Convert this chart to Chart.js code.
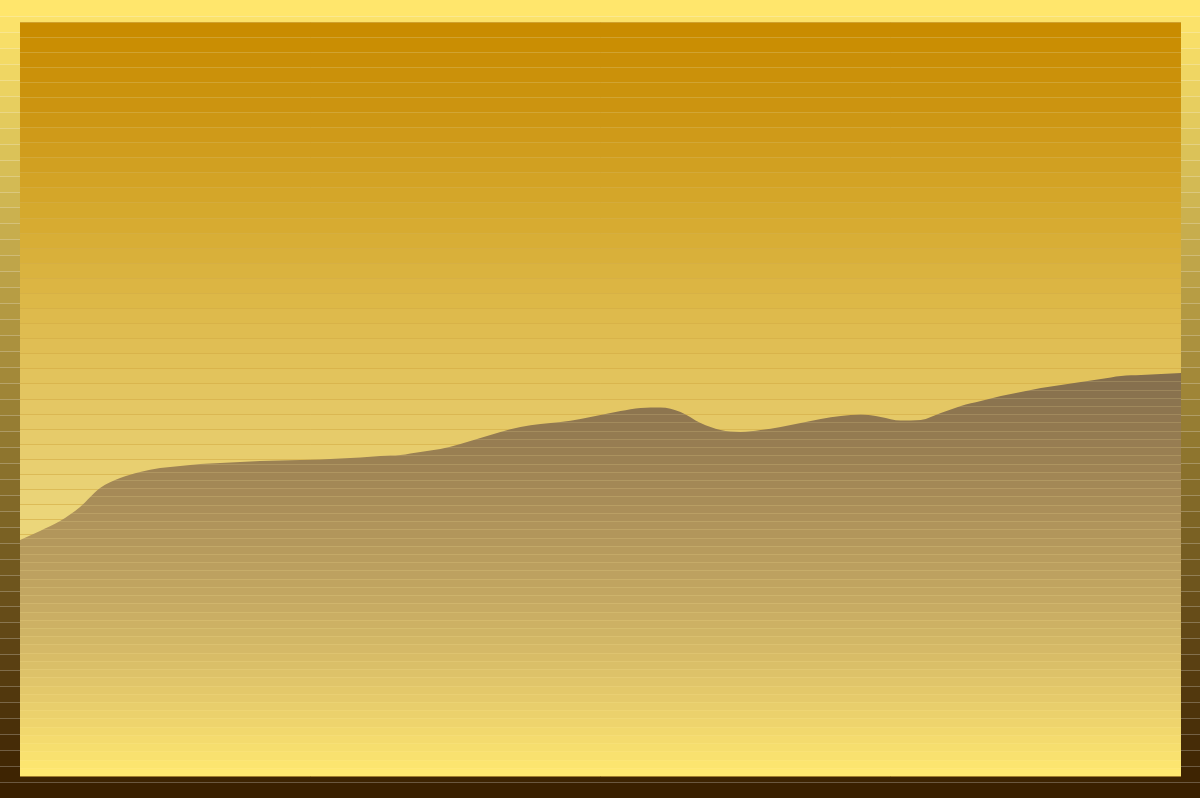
<!DOCTYPE html>
<html lang="en">
	<head>
		<meta charset="utf-8" />
		<title>Banded Area</title>
		<style>
			html,
			body {
				margin: 0;
				padding: 0;
				background: #3a2000;
			}
			#wrap {
				position: relative;
				width: 1200px;
				height: 798px;
			}
		</style>
	</head>
	<body>
		<div id="wrap"><canvas id="area"></canvas></div>

		<script src="https://cdn.jsdelivr.net/npm/chart.js"></script>
		<script>
			// series values (y axis runs 0..50)
			var levels = [
				15.65, 16.25, 16.91, 17.84, 19.1, 19.76, 20.16, 20.42, 20.56, 20.69,
				20.76, 20.82, 20.89, 20.92, 20.95, 20.99, 21.05, 21.12, 21.22, 21.29,
				21.49, 21.68, 22.02, 22.41, 22.81, 23.14, 23.34, 23.47, 23.67, 23.94,
				24.2, 24.4, 24.44, 24.14, 23.41, 22.94, 22.81, 22.94, 23.14, 23.41,
				23.67, 23.87, 23.97, 23.81, 23.57, 23.61, 24.07, 24.54, 24.87, 25.2,
				25.46, 25.73, 25.93, 26.13, 26.33, 26.53, 26.59, 26.66, 26.72,
			];
			// categories (no labels are shown)
			var labels = levels.map(function (v, i) {
				return String(i + 1);
			});
			var yMin = 0;
			var yMax = 50;
			var yStep = 1;

			// colour stops for the three banded gradients
			var pageStops = [
				[0, "#FFE66C"],
				[1, "#3A2000"],
			];
			var plotStops = [
				[0, "#C98C00"],
				[0.1, "#CC9410"],
				[0.24, "#D5A82C"],
				[0.37, "#DDB848"],
				[0.5, "#E4C662"],
				[0.64, "#EAD478"],
				[1, "#F8E88A"],
			];
			var fillStops = [
				[0, "#846E4D"],
				[0.18, "#987E52"],
				[0.36, "#AE925A"],
				[0.56, "#C4A862"],
				[0.81, "#E5CA6B"],
				[1, "#FFE870"],
			];

			function hexRgb(h) {
				var n = parseInt(h.slice(1), 16);
				return [(n >> 16) & 255, (n >> 8) & 255, n & 255];
			}

			function mix(stops, t) {
				for (var i = 1; i < stops.length; i++) {
					if (t <= stops[i][0] || i === stops.length - 1) {
						var a = stops[i - 1];
						var b = stops[i];
						var f = (t - a[0]) / (b[0] - a[0]);
						f = Math.max(0, Math.min(1, f));
						var ca = hexRgb(a[1]);
						var cb = hexRgb(b[1]);
						return (
							"rgb(" +
							Math.round(ca[0] + (cb[0] - ca[0]) * f) + "," +
							Math.round(ca[1] + (cb[1] - ca[1]) * f) + "," +
							Math.round(ca[2] + (cb[2] - ca[2]) * f) + ")"
						);
					}
				}
				return stops[0][1];
			}

			// stepped gradient, n bands, optional thin line between bands
			function drawBands(ctx, x, y, w, h, n, stops, lineColor) {
				var step = h / n;
				for (var k = 0; k < n; k++) {
					var y0 = Math.round(y + k * step);
					var y1 = Math.round(y + (k + 1) * step);
					ctx.fillStyle = mix(stops, n > 1 ? k / (n - 1) : 0);
					ctx.fillRect(x, y0, w, y1 - y0);
				}
				if (lineColor) {
					ctx.fillStyle = lineColor;
					for (var j = 1; j < n; j++) {
						ctx.fillRect(x, Math.round(y + j * step), w, 1);
					}
				}
			}

			// page + plot area backgrounds
			var backdrop = {
				id: "backdrop",
				beforeDraw: function (chart) {
					var ctx = chart.ctx;
					var a = chart.chartArea;
					ctx.save();
					drawBands(ctx, 0, 0, chart.width, chart.height, 50, pageStops, "rgba(255,255,255,0.25)");
					drawBands(ctx, a.left, a.top, a.right - a.left, a.bottom - a.top, 50, plotStops, null);
					ctx.restore();
				},
			};

			// banded fill for the area, as a pattern in canvas pixels
			function areaFill(context) {
				var chart = context.chart;
				var a = chart.chartArea;
				if (!a || !chart.scales.y) {
					return "#846E4D";
				}
				var top = chart.scales.y.getPixelForValue(Math.max.apply(null, levels));
				var off = document.createElement("canvas");
				off.width = chart.width;
				off.height = chart.height;
				var octx = off.getContext("2d");
				drawBands(octx, 0, top, chart.width, a.bottom - top, 49, fillStops, "rgba(255,235,160,0.16)");
				return chart.ctx.createPattern(off, "no-repeat");
			}

			var config = {
				type: "line",
				data: {
					labels: labels,
					datasets: [
						{
							data: levels,
							fill: "start",
							backgroundColor: areaFill,
							borderColor: "rgba(0,0,0,0)",
							borderWidth: 0,
							pointRadius: 0,
							cubicInterpolationMode: "monotone",
						},
					],
				},
				options: {
					responsive: true,
					maintainAspectRatio: false,
					animation: false,
					layout: {
						padding: { top: 22, left: 20, right: 19, bottom: 22 },
					},
					plugins: {
						legend: { display: false },
						tooltip: { enabled: false },
					},
					scales: {
						x: {
							display: false,
						},
						y: {
							min: yMin,
							max: yMax,
							border: { display: false },
							ticks: { display: false, stepSize: yStep },
							grid: {
								color: "rgba(212,174,70,0.65)",
								lineWidth: 1,
								drawTicks: false,
							},
						},
					},
				},
				plugins: [backdrop],
			};

			var areaChart = new Chart(document.getElementById("area"), config);
		</script>
	</body>
</html>
